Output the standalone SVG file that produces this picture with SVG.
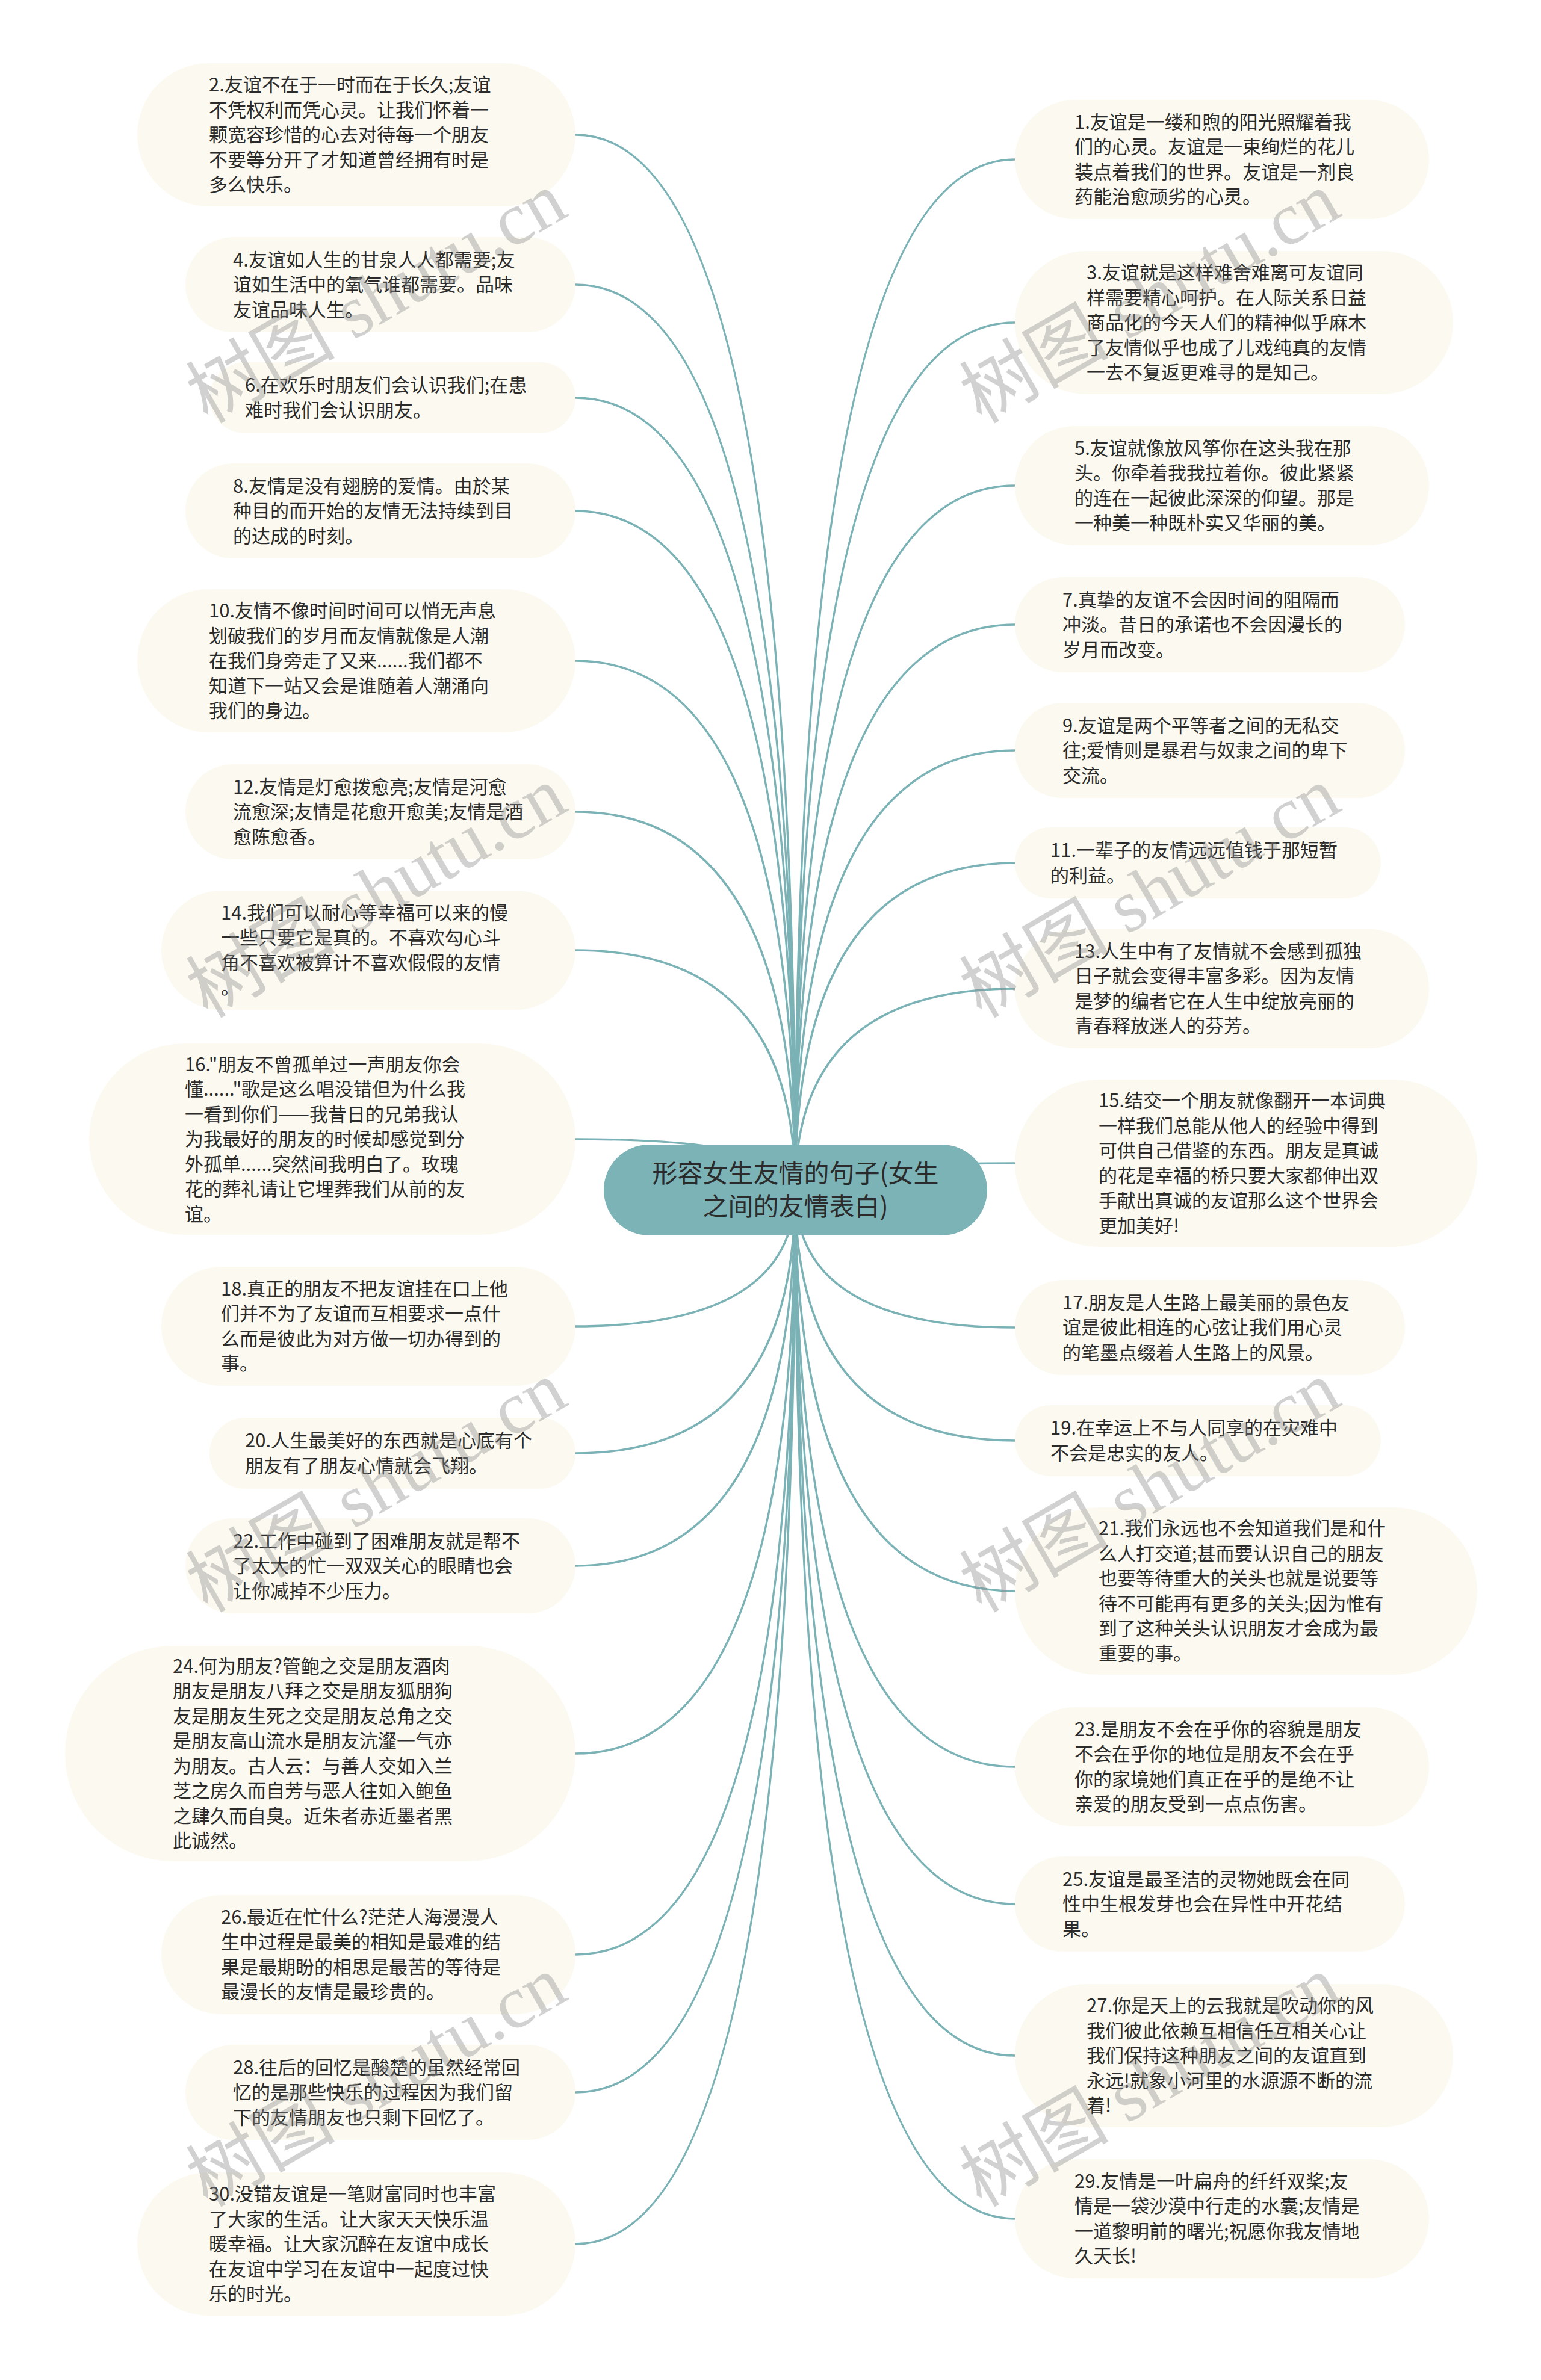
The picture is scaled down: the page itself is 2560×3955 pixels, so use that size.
<svg xmlns="http://www.w3.org/2000/svg" width="2560" height="3955" viewBox="0 0 2560 3955">
<style>
.bg{fill:#ffffff}
.pill{fill:#fcfaf0}
.c{fill:none;stroke:#7ab2b6;stroke-width:3.5;stroke-linecap:round}
.t{font-family:"Noto Sans CJK SC","Liberation Sans",sans-serif;font-size:31px;fill:#2b2b2b}
.root{fill:#7bb3b7}
.rt{font-family:"Noto Sans CJK SC","Liberation Sans",sans-serif;font-size:42px;fill:#2b2b2b;text-anchor:middle}
.wm{fill:#8c8c8c;fill-opacity:0.4;font-size:124px}
.wc{font-family:"Noto Sans CJK SC",sans-serif}
.ws{font-family:"Liberation Serif",serif}
</style>
<rect class="bg" x="0" y="0" width="2560" height="3955"/>
<g id="connectors">
<path class="c" d="M1321,1977 Q1321,224 956,224"/>
<path class="c" d="M1321,1977 Q1321,473 956,473"/>
<path class="c" d="M1321,1977 Q1321,661 956,661"/>
<path class="c" d="M1321,1977 Q1321,849 956,849"/>
<path class="c" d="M1321,1977 Q1321,1098 956,1098"/>
<path class="c" d="M1321,1977 Q1321,1349 956,1349"/>
<path class="c" d="M1321,1977 Q1321,1579 956,1579"/>
<path class="c" d="M1321,1977 Q1321,1893 956,1893"/>
<path class="c" d="M1321,1977 Q1321,2204 956,2204"/>
<path class="c" d="M1321,1977 Q1321,2415 956,2415"/>
<path class="c" d="M1321,1977 Q1321,2602 956,2602"/>
<path class="c" d="M1321,1977 Q1321,2914 956,2914"/>
<path class="c" d="M1321,1977 Q1321,3248 956,3248"/>
<path class="c" d="M1321,1977 Q1321,3477 956,3477"/>
<path class="c" d="M1321,1977 Q1321,3729 956,3729"/>
<path class="c" d="M1321,1977 Q1321,265 1686,265"/>
<path class="c" d="M1321,1977 Q1321,536 1686,536"/>
<path class="c" d="M1321,1977 Q1321,807 1686,807"/>
<path class="c" d="M1321,1977 Q1321,1038 1686,1038"/>
<path class="c" d="M1321,1977 Q1321,1247 1686,1247"/>
<path class="c" d="M1321,1977 Q1321,1434 1686,1434"/>
<path class="c" d="M1321,1977 Q1321,1643 1686,1643"/>
<path class="c" d="M1321,1977 Q1321,1933 1686,1933"/>
<path class="c" d="M1321,1977 Q1321,2206 1686,2206"/>
<path class="c" d="M1321,1977 Q1321,2394 1686,2394"/>
<path class="c" d="M1321,1977 Q1321,2644 1686,2644"/>
<path class="c" d="M1321,1977 Q1321,2936 1686,2936"/>
<path class="c" d="M1321,1977 Q1321,3164 1686,3164"/>
<path class="c" d="M1321,1977 Q1321,3416 1686,3416"/>
<path class="c" d="M1321,1977 Q1321,3687 1686,3687"/>
</g>
<g id="root">
<rect class="root" x="1003" y="1902" width="637" height="151" rx="75.5"/>
<text class="rt"><tspan x="1321.5" y="1964.5">形容女生友情的句子(女生</tspan><tspan x="1321.5" y="2019.5">之间的友情表白)</tspan></text>
</g>
<g id="n2"><rect class="pill" x="228" y="105" width="728" height="238" rx="119"/>
<text class="t"><tspan x="347" y="152">2.友谊不在于一时而在于长久;友谊</tspan><tspan x="347" dy="41.5">不凭权利而凭心灵。让我们怀着一</tspan><tspan x="347" dy="41.5">颗宽容珍惜的心去对待每一个朋友</tspan><tspan x="347" dy="41.5">不要等分开了才知道曾经拥有时是</tspan><tspan x="347" dy="41.5">多么快乐。</tspan></text></g>
<g id="n4"><rect class="pill" x="308" y="394" width="648" height="158" rx="79"/>
<text class="t"><tspan x="387" y="442.5">4.友谊如人生的甘泉人人都需要;友</tspan><tspan x="387" dy="41.5">谊如生活中的氧气谁都需要。品味</tspan><tspan x="387" dy="41.5">友谊品味人生。</tspan></text></g>
<g id="n6"><rect class="pill" x="348" y="602" width="608" height="118" rx="59"/>
<text class="t"><tspan x="407" y="651.25">6.在欢乐时朋友们会认识我们;在患</tspan><tspan x="407" dy="41.5">难时我们会认识朋友。</tspan></text></g>
<g id="n8"><rect class="pill" x="308" y="770" width="648" height="158" rx="79"/>
<text class="t"><tspan x="387" y="818.5">8.友情是没有翅膀的爱情。由於某</tspan><tspan x="387" dy="41.5">种目的而开始的友情无法持续到目</tspan><tspan x="387" dy="41.5">的达成的时刻。</tspan></text></g>
<g id="n10"><rect class="pill" x="228" y="979" width="728" height="238" rx="119"/>
<text class="t"><tspan x="347" y="1026">10.友情不像时间时间可以悄无声息</tspan><tspan x="347" dy="41.5">划破我们的岁月而友情就像是人潮</tspan><tspan x="347" dy="41.5">在我们身旁走了又来......我们都不</tspan><tspan x="347" dy="41.5">知道下一站又会是谁随着人潮涌向</tspan><tspan x="347" dy="41.5">我们的身边。</tspan></text></g>
<g id="n12"><rect class="pill" x="308" y="1270" width="648" height="158" rx="79"/>
<text class="t"><tspan x="387" y="1318.5">12.友情是灯愈拨愈亮;友情是河愈</tspan><tspan x="387" dy="41.5">流愈深;友情是花愈开愈美;友情是酒</tspan><tspan x="387" dy="41.5">愈陈愈香。</tspan></text></g>
<g id="n14"><rect class="pill" x="268" y="1480" width="688" height="198" rx="99"/>
<text class="t"><tspan x="367" y="1527.75">14.我们可以耐心等幸福可以来的慢</tspan><tspan x="367" dy="41.5">一些只要它是真的。不喜欢勾心斗</tspan><tspan x="367" dy="41.5">角不喜欢被算计不喜欢假假的友情</tspan><tspan x="367" dy="41.5">。</tspan></text></g>
<g id="n16"><rect class="pill" x="148" y="1734" width="808" height="318" rx="159"/>
<text class="t"><tspan x="307" y="1779.5">16."朋友不曾孤单过一声朋友你会</tspan><tspan x="307" dy="41.5">懂......"歌是这么唱没错但为什么我</tspan><tspan x="307" dy="41.5">一看到你们——我昔日的兄弟我认</tspan><tspan x="307" dy="41.5">为我最好的朋友的时候却感觉到分</tspan><tspan x="307" dy="41.5">外孤单......突然间我明白了。玫瑰</tspan><tspan x="307" dy="41.5">花的葬礼请让它埋葬我们从前的友</tspan><tspan x="307" dy="41.5">谊。</tspan></text></g>
<g id="n18"><rect class="pill" x="268" y="2105" width="688" height="198" rx="99"/>
<text class="t"><tspan x="367" y="2152.75">18.真正的朋友不把友谊挂在口上他</tspan><tspan x="367" dy="41.5">们并不为了友谊而互相要求一点什</tspan><tspan x="367" dy="41.5">么而是彼此为对方做一切办得到的</tspan><tspan x="367" dy="41.5">事。</tspan></text></g>
<g id="n20"><rect class="pill" x="348" y="2356" width="608" height="118" rx="59"/>
<text class="t"><tspan x="407" y="2405.25">20.人生最美好的东西就是心底有个</tspan><tspan x="407" dy="41.5">朋友有了朋友心情就会飞翔。</tspan></text></g>
<g id="n22"><rect class="pill" x="308" y="2523" width="648" height="158" rx="79"/>
<text class="t"><tspan x="387" y="2571.5">22.工作中碰到了困难朋友就是帮不</tspan><tspan x="387" dy="41.5">了太大的忙一双双关心的眼睛也会</tspan><tspan x="387" dy="41.5">让你减掉不少压力。</tspan></text></g>
<g id="n24"><rect class="pill" x="108" y="2735" width="848" height="358" rx="179"/>
<text class="t"><tspan x="287" y="2779.75">24.何为朋友?管鲍之交是朋友酒肉</tspan><tspan x="287" dy="41.5">朋友是朋友八拜之交是朋友狐朋狗</tspan><tspan x="287" dy="41.5">友是朋友生死之交是朋友总角之交</tspan><tspan x="287" dy="41.5">是朋友高山流水是朋友沆瀣一气亦</tspan><tspan x="287" dy="41.5">为朋友。古人云：与善人交如入兰</tspan><tspan x="287" dy="41.5">芝之房久而自芳与恶人往如入鲍鱼</tspan><tspan x="287" dy="41.5">之肆久而自臭。近朱者赤近墨者黑</tspan><tspan x="287" dy="41.5">此诚然。</tspan></text></g>
<g id="n26"><rect class="pill" x="268" y="3149" width="688" height="198" rx="99"/>
<text class="t"><tspan x="367" y="3196.75">26.最近在忙什么?茫茫人海漫漫人</tspan><tspan x="367" dy="41.5">生中过程是最美的相知是最难的结</tspan><tspan x="367" dy="41.5">果是最期盼的相思是最苦的等待是</tspan><tspan x="367" dy="41.5">最漫长的友情是最珍贵的。</tspan></text></g>
<g id="n28"><rect class="pill" x="308" y="3398" width="648" height="158" rx="79"/>
<text class="t"><tspan x="387" y="3446.5">28.往后的回忆是酸楚的虽然经常回</tspan><tspan x="387" dy="41.5">忆的是那些快乐的过程因为我们留</tspan><tspan x="387" dy="41.5">下的友情朋友也只剩下回忆了。</tspan></text></g>
<g id="n30"><rect class="pill" x="228" y="3610" width="728" height="238" rx="119"/>
<text class="t"><tspan x="347" y="3657">30.没错友谊是一笔财富同时也丰富</tspan><tspan x="347" dy="41.5">了大家的生活。让大家天天快乐温</tspan><tspan x="347" dy="41.5">暖幸福。让大家沉醉在友谊中成长</tspan><tspan x="347" dy="41.5">在友谊中学习在友谊中一起度过快</tspan><tspan x="347" dy="41.5">乐的时光。</tspan></text></g>
<g id="n1"><rect class="pill" x="1686" y="166" width="688" height="198" rx="99"/>
<text class="t"><tspan x="1785" y="213.75">1.友谊是一缕和煦的阳光照耀着我</tspan><tspan x="1785" dy="41.5">们的心灵。友谊是一束绚烂的花儿</tspan><tspan x="1785" dy="41.5">装点着我们的世界。友谊是一剂良</tspan><tspan x="1785" dy="41.5">药能治愈顽劣的心灵。</tspan></text></g>
<g id="n3"><rect class="pill" x="1686" y="417" width="728" height="238" rx="119"/>
<text class="t"><tspan x="1805" y="464">3.友谊就是这样难舍难离可友谊同</tspan><tspan x="1805" dy="41.5">样需要精心呵护。在人际关系日益</tspan><tspan x="1805" dy="41.5">商品化的今天人们的精神似乎麻木</tspan><tspan x="1805" dy="41.5">了友情似乎也成了儿戏纯真的友情</tspan><tspan x="1805" dy="41.5">一去不复返更难寻的是知己。</tspan></text></g>
<g id="n5"><rect class="pill" x="1686" y="708" width="688" height="198" rx="99"/>
<text class="t"><tspan x="1785" y="755.75">5.友谊就像放风筝你在这头我在那</tspan><tspan x="1785" dy="41.5">头。你牵着我我拉着你。彼此紧紧</tspan><tspan x="1785" dy="41.5">的连在一起彼此深深的仰望。那是</tspan><tspan x="1785" dy="41.5">一种美一种既朴实又华丽的美。</tspan></text></g>
<g id="n7"><rect class="pill" x="1686" y="959" width="648" height="158" rx="79"/>
<text class="t"><tspan x="1765" y="1007.5">7.真挚的友谊不会因时间的阻隔而</tspan><tspan x="1765" dy="41.5">冲淡。昔日的承诺也不会因漫长的</tspan><tspan x="1765" dy="41.5">岁月而改变。</tspan></text></g>
<g id="n9"><rect class="pill" x="1686" y="1168" width="648" height="158" rx="79"/>
<text class="t"><tspan x="1765" y="1216.5">9.友谊是两个平等者之间的无私交</tspan><tspan x="1765" dy="41.5">往;爱情则是暴君与奴隶之间的卑下</tspan><tspan x="1765" dy="41.5">交流。</tspan></text></g>
<g id="n11"><rect class="pill" x="1686" y="1375" width="608" height="118" rx="59"/>
<text class="t"><tspan x="1745" y="1424.25">11.一辈子的友情远远值钱于那短暂</tspan><tspan x="1745" dy="41.5">的利益。</tspan></text></g>
<g id="n13"><rect class="pill" x="1686" y="1544" width="688" height="198" rx="99"/>
<text class="t"><tspan x="1785" y="1591.75">13.人生中有了友情就不会感到孤独</tspan><tspan x="1785" dy="41.5">日子就会变得丰富多彩。因为友情</tspan><tspan x="1785" dy="41.5">是梦的编者它在人生中绽放亮丽的</tspan><tspan x="1785" dy="41.5">青春释放迷人的芬芳。</tspan></text></g>
<g id="n15"><rect class="pill" x="1686" y="1794" width="768" height="278" rx="139"/>
<text class="t"><tspan x="1825" y="1840.25">15.结交一个朋友就像翻开一本词典</tspan><tspan x="1825" dy="41.5">一样我们总能从他人的经验中得到</tspan><tspan x="1825" dy="41.5">可供自己借鉴的东西。朋友是真诚</tspan><tspan x="1825" dy="41.5">的花是幸福的桥只要大家都伸出双</tspan><tspan x="1825" dy="41.5">手献出真诚的友谊那么这个世界会</tspan><tspan x="1825" dy="41.5">更加美好!</tspan></text></g>
<g id="n17"><rect class="pill" x="1686" y="2127" width="648" height="158" rx="79"/>
<text class="t"><tspan x="1765" y="2175.5">17.朋友是人生路上最美丽的景色友</tspan><tspan x="1765" dy="41.5">谊是彼此相连的心弦让我们用心灵</tspan><tspan x="1765" dy="41.5">的笔墨点缀着人生路上的风景。</tspan></text></g>
<g id="n19"><rect class="pill" x="1686" y="2335" width="608" height="118" rx="59"/>
<text class="t"><tspan x="1745" y="2384.25">19.在幸运上不与人同享的在灾难中</tspan><tspan x="1745" dy="41.5">不会是忠实的友人。</tspan></text></g>
<g id="n21"><rect class="pill" x="1686" y="2505" width="768" height="278" rx="139"/>
<text class="t"><tspan x="1825" y="2551.25">21.我们永远也不会知道我们是和什</tspan><tspan x="1825" dy="41.5">么人打交道;甚而要认识自己的朋友</tspan><tspan x="1825" dy="41.5">也要等待重大的关头也就是说要等</tspan><tspan x="1825" dy="41.5">待不可能再有更多的关头;因为惟有</tspan><tspan x="1825" dy="41.5">到了这种关头认识朋友才会成为最</tspan><tspan x="1825" dy="41.5">重要的事。</tspan></text></g>
<g id="n23"><rect class="pill" x="1686" y="2837" width="688" height="198" rx="99"/>
<text class="t"><tspan x="1785" y="2884.75">23.是朋友不会在乎你的容貌是朋友</tspan><tspan x="1785" dy="41.5">不会在乎你的地位是朋友不会在乎</tspan><tspan x="1785" dy="41.5">你的家境她们真正在乎的是绝不让</tspan><tspan x="1785" dy="41.5">亲爱的朋友受到一点点伤害。</tspan></text></g>
<g id="n25"><rect class="pill" x="1686" y="3085" width="648" height="158" rx="79"/>
<text class="t"><tspan x="1765" y="3133.5">25.友谊是最圣洁的灵物她既会在同</tspan><tspan x="1765" dy="41.5">性中生根发芽也会在异性中开花结</tspan><tspan x="1765" dy="41.5">果。</tspan></text></g>
<g id="n27"><rect class="pill" x="1686" y="3297" width="728" height="238" rx="119"/>
<text class="t"><tspan x="1805" y="3344">27.你是天上的云我就是吹动你的风</tspan><tspan x="1805" dy="41.5">我们彼此依赖互相信任互相关心让</tspan><tspan x="1805" dy="41.5">我们保持这种朋友之间的友谊直到</tspan><tspan x="1805" dy="41.5">永远!就象小河里的水源源不断的流</tspan><tspan x="1805" dy="41.5">着!</tspan></text></g>
<g id="n29"><rect class="pill" x="1686" y="3588" width="688" height="198" rx="99"/>
<text class="t"><tspan x="1785" y="3635.75">29.友情是一叶扁舟的纤纤双桨;友</tspan><tspan x="1785" dy="41.5">情是一袋沙漠中行走的水囊;友情是</tspan><tspan x="1785" dy="41.5">一道黎明前的曙光;祝愿你我友情地</tspan><tspan x="1785" dy="41.5">久天长!</tspan></text></g>
<g id="watermarks" class="wm">
<text transform="translate(345,705) rotate(-30)"><tspan class="wc">树图</tspan><tspan class="ws"> shutu.cn</tspan></text>
<text transform="translate(1630,705) rotate(-30)"><tspan class="wc">树图</tspan><tspan class="ws"> shutu.cn</tspan></text>
<text transform="translate(345,1693) rotate(-30)"><tspan class="wc">树图</tspan><tspan class="ws"> shutu.cn</tspan></text>
<text transform="translate(1630,1693) rotate(-30)"><tspan class="wc">树图</tspan><tspan class="ws"> shutu.cn</tspan></text>
<text transform="translate(345,2681) rotate(-30)"><tspan class="wc">树图</tspan><tspan class="ws"> shutu.cn</tspan></text>
<text transform="translate(1630,2681) rotate(-30)"><tspan class="wc">树图</tspan><tspan class="ws"> shutu.cn</tspan></text>
<text transform="translate(345,3669) rotate(-30)"><tspan class="wc">树图</tspan><tspan class="ws"> shutu.cn</tspan></text>
<text transform="translate(1630,3669) rotate(-30)"><tspan class="wc">树图</tspan><tspan class="ws"> shutu.cn</tspan></text>
</g>
</svg>
